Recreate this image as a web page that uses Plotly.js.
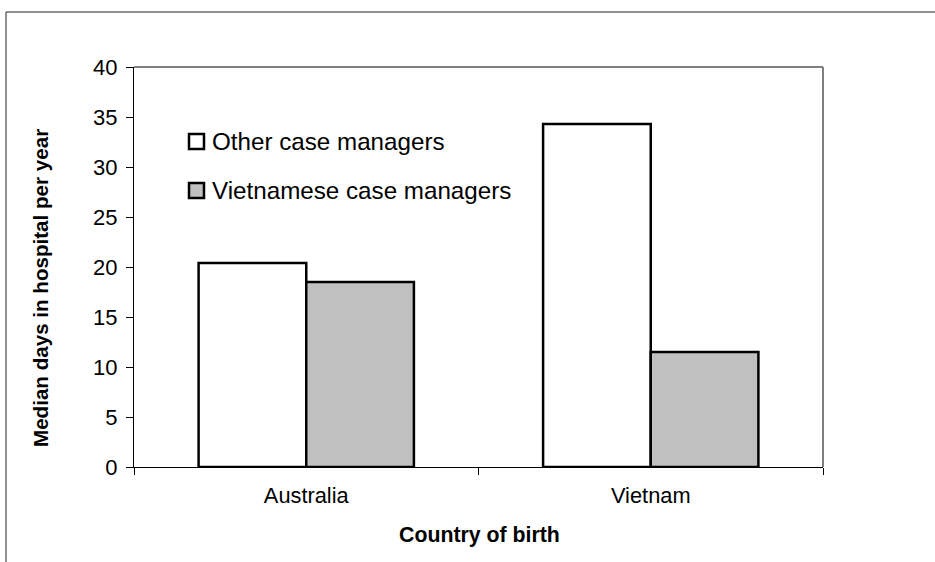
<!DOCTYPE html>
<html>
<head>
<meta charset="utf-8">
<script src="https://cdn.plot.ly/plotly-3.0.1.min.js"></script>
<style>html,body{margin:0;padding:0;background:#fff;}#chart{width:935px;height:562px;}</style>
</head>
<body>
<div id="chart"></div>
<script>
var categories = ['Australia', 'Vietnam'];
var seriesNames = ['Other case managers', 'Vietnamese case managers'];
var otherValues = [20.4, 34.3];
var vietValues = [18.5, 11.5];
var yTickValues = [0, 5, 10, 15, 20, 25, 30, 35, 40];

var W = 935, H = 562;
var M = {l: 134, r: 112, t: 67, b: 95};
var PW = W - M.l - M.r, PH = H - M.t - M.b;
function px(x) { return (x - M.l) / PW; }
function py(y) { return (H - M.b - y) / PH; }

var FONT = 'Liberation Sans, Arial, sans-serif';

var traces = [
  {type: 'bar', x: categories, y: otherValues, name: seriesNames[0],
   marker: {color: '#FFFFFF', line: {color: '#000000', width: 2.5}}, hoverinfo: 'none'},
  {type: 'bar', x: categories, y: vietValues, name: seriesNames[1],
   marker: {color: '#C0C0C0', line: {color: '#000000', width: 2.5}}, hoverinfo: 'none'}
];

var swatchColors = ['#FFFFFF', '#C0C0C0'];
var legendRows = [141.5, 190.5];
var shapes = [
  // plot border (top & right, gray)
  {type: 'line', xref: 'paper', yref: 'paper', x0: 0, x1: 1, y0: 1, y1: 1, line: {color: '#808080', width: 2}},
  {type: 'line', xref: 'paper', yref: 'paper', x0: 1, x1: 1, y0: 0, y1: 1, line: {color: '#808080', width: 2}},
  // outer frame
  {type: 'line', xref: 'paper', yref: 'paper', x0: px(6), x1: px(935), y0: py(12), y1: py(12), line: {color: '#222222', width: 1}},
  {type: 'line', xref: 'paper', yref: 'paper', x0: px(6), x1: px(6), y0: py(12), y1: py(562), line: {color: '#222222', width: 1}}
];
var annotations = [
  {text: '<b>Country of birth</b>', xref: 'paper', yref: 'paper', x: px(480), y: py(535),
   showarrow: false, font: {family: FONT, size: 21.3, color: '#000'}, xanchor: 'center', yanchor: 'middle'},
  {text: '<b>Median days in hospital per year</b>', xref: 'paper', yref: 'paper', x: px(40), y: py(288),
   showarrow: false, textangle: -90, font: {family: FONT, size: 20.6, color: '#000'}, xanchor: 'center', yanchor: 'middle'}
];
seriesNames.forEach(function (nm, i) {
  var cy = legendRows[i];
  shapes.push({type: 'rect', xref: 'paper', yref: 'paper', x0: px(189), x1: px(204), y0: py(cy - 7.5), y1: py(cy + 7.5),
    fillcolor: swatchColors[i], line: {color: '#000', width: 2.5}});
  annotations.push({text: nm, xref: 'paper', yref: 'paper', x: px(210), y: py(cy), showarrow: false,
    xanchor: 'left', yanchor: 'middle', font: {family: FONT, size: 24.2, color: '#000'}});
});

var layout = {
  width: W, height: H, autosize: false,
  margin: M,
  paper_bgcolor: '#FFFFFF', plot_bgcolor: '#FFFFFF',
  showlegend: false,
  barmode: 'group', bargap: 0.375, bargroupgap: 0,
  font: {family: FONT, color: '#000'},
  xaxis: {
    type: 'category', range: [-0.5, 1.5], showgrid: false, zeroline: false,
    showline: true, linecolor: '#000', linewidth: 1,
    ticks: 'outside', tickson: 'boundaries', ticklen: 7, tickcolor: '#000', tickwidth: 1,
    ticklabelstandoff: 9,
    tickfont: {family: FONT, size: 21.8, color: '#000'}
  },
  yaxis: {
    range: [0, 40], tickvals: yTickValues, ticktext: yTickValues.map(String),
    showgrid: false, zeroline: false, showline: true, linecolor: '#000', linewidth: 1,
    ticks: 'outside', ticklen: 7, tickcolor: '#000', tickwidth: 1,
    ticklabelstandoff: 4,
    tickfont: {family: FONT, size: 22, color: '#000'}
  },
  shapes: shapes,
  annotations: annotations
};

Plotly.newPlot('chart', traces, layout, {staticPlot: true, displayModeBar: false});
</script>
</body>
</html>
